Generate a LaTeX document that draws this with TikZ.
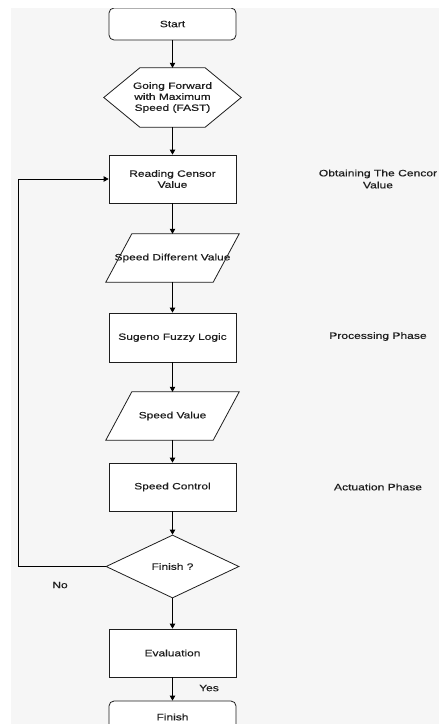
\documentclass[tikz,border=0pt]{standalone}
\usepackage{fontspec}
\setmainfont[FakeStretch=1.3,FakeBold=0.4]{Liberation Sans}
\usetikzlibrary{arrows.meta,shapes.geometric,calc}
\definecolor{pagebg}{HTML}{F6F6F6}
\definecolor{ink}{HTML}{1E1E1E}
\tikzset{
  base/.style={minimum width=127pt,inner sep=0pt,align=center,text=ink,
    font=\fontsize{9.2}{11}\selectfont},
  procbox/.style={base,draw=ink,fill=white,line width=0.8pt,minimum height=48pt},
  termbox/.style={procbox,rounded corners=5pt,minimum height=32pt},
  ghost/.style={base,minimum height=48pt},
  decide/.style={base,diamond,draw=ink,fill=white,line width=0.8pt,
    minimum width=133pt,minimum height=63pt},
  note/.style={text=ink,align=center,font=\fontsize{9.3}{12}\selectfont},
  flow/.style={draw=black,line width=0.8pt,-{Triangle[length=5pt,width=5.5pt]}},
  shapeline/.style={draw=ink,fill=white,line width=0.8pt},
}
\begin{document}
\begin{tikzpicture}[x=1pt,y=-1pt]
\useasboundingbox (0,0) rectangle (439,724);
\fill[white] (0,0) rectangle (439,724);
\fill[pagebg] (11,8) rectangle (439,724);
\clip (11,8) rectangle (439,724);

% terminal and process boxes
\node[termbox] (start) at (172.5,24) {Start};
\node[ghost,minimum width=137pt,minimum height=59pt] (fast) at (172.5,97.5) {};
\node[procbox] (read) at (172.5,179) {Reading Censor\\Value};
\node[ghost,minimum width=133pt] (diff) at (172.5,258) {};
\node[procbox,minimum height=49pt] (fuzzy) at (172.5,337.5) {Sugeno Fuzzy Logic};
\node[ghost,minimum width=133pt] (speed) at (172.5,416) {};
\node[procbox] (ctrl) at (172.5,487) {Speed Control};
\node[decide] (done) at (172.5,566.5) {Finish ?};
\node[procbox] (eval) at (172.5,653) {Evaluation};
\node[termbox] (finish) at (172.5,717) {Finish};

% hexagon for the preparation step
\path[shapeline] (fast.west) -- ($(fast.north west)+(36,0)$) -- ($(fast.north east)+(-36,0)$)
  -- (fast.east) -- ($(fast.south east)+(-36,0)$) -- ($(fast.south west)+(36,0)$) -- cycle;
\node[base] at (fast.center) {Going Forward\\with Maximum\\Speed (FAST)};

% parallelograms for data
\path[shapeline] ($(diff.north west)+(26,0)$) -- (diff.north east)
  -- ($(diff.south east)+(-26,0)$) -- (diff.south west) -- cycle;
\node[base] at (diff.center) {Speed Different Value};
\path[shapeline] ($(speed.north west)+(26,0)$) -- (speed.north east)
  -- ($(speed.south east)+(-26,0)$) -- (speed.south west) -- cycle;
\node[base] at (speed.center) {Speed Value};

% main flow
\draw[flow] (start) -- (fast);
\draw[flow] (fast) -- (read);
\draw[flow] (read) -- (diff);
\draw[flow] (diff) -- (fuzzy);
\draw[flow] (fuzzy) -- (speed);
\draw[flow] (speed) -- (ctrl);
\draw[flow] (ctrl) -- (done);
\draw[flow] (done) -- (eval);
\draw[flow] (eval) -- (finish);

% loop back when not finished
\coordinate (loopdown) at (18,566.5);
\coordinate (loopup) at (18,179);
\draw[flow] (done.west) -- (loopdown) -- (loopup) -- (read.west);

% branch labels
\node[note] (no) at (60,585) {No};
\node[note] (yes) at (209,688) {Yes};

% phase notes
\node[note] (obtain) at (378,179) {Obtaining The Cencor\\Value};
\node[note] (process) at (378,336.5) {Processing Phase};
\node[note] (actuate) at (378,487) {Actuation Phase};
\end{tikzpicture}
\end{document}
